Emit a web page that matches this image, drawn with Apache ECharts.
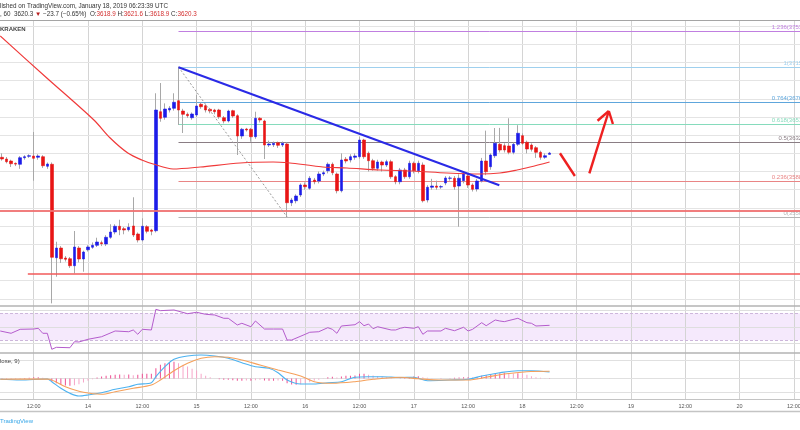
<!DOCTYPE html>
<html><head><meta charset="utf-8">
<script src="https://cdn.jsdelivr.net/npm/echarts@6/dist/echarts.min.js"></script>
<style>html,body{margin:0;padding:0;background:#fff}#c{width:800px;height:430px}</style>
</head><body><div id="c"></div>
<script>
// hours since 2019-01-14 00:00 (hourly candles, BTCUSD KRAKEN 60)
const hours = [-19,-18,-17,-16,-15,-14,-13,-12,-11,-10,-9,-8,-7,-6,-5,-4,-3,-2,-1,0,1,2,3,4,5,6,7,8,9,10,11,12,13,14,15,16,17,18,19,20,21,22,23,24,25,26,27,28,29,30,31,32,33,34,35,36,37,38,39,40,41,42,43,44,45,46,47,48,49,50,51,52,53,54,55,56,57,58,59,60,61,62,63,64,65,66,67,68,69,70,71,72,73,74,75,76,77,78,79,80,81,82,83,84,85,86,87,88,89,90,91,92,93,94,95,96,97,98,99,100,101,102];
const opens = [3615.7,3613.8,3611.6,3609.0,3608.0,3615.2,3616.8,3617.1,3615.7,3616.3,3605.8,3608.0,3505.2,3515.9,3504.9,3504.1,3496.4,3515.9,3503.8,3514.0,3516.7,3518.9,3521.7,3520.3,3527.7,3533.5,3539.8,3537.1,3536.0,3540.1,3531.3,3524.7,3539.3,3535.7,3534.9,3665.8,3659.7,3667.7,3669.6,3677.9,3666.6,3663.0,3659.2,3662.2,3674.0,3672.4,3668.5,3667.7,3667.7,3659.2,3655.6,3666.9,3661.4,3639.1,3646.8,3646.5,3638.3,3658.6,3655.6,3629.2,3629.5,3631.7,3629.2,3630.3,3565.7,3567.9,3574.2,3585.2,3581.6,3590.7,3589.6,3597.3,3600.9,3608.0,3597.3,3578.9,3613.5,3612.7,3615.7,3616.3,3634.7,3620.1,3611.9,3603.6,3610.5,3607.2,3610.8,3594.3,3588.8,3601.7,3594.3,3609.1,3600.9,3607.2,3568.7,3582.7,3584.1,3583.0,3587.4,3592.6,3592.6,3584.1,3589.9,3595.1,3585.2,3580.8,3589.6,3611.6,3605.3,3617.4,3630.0,3628.4,3628.1,3621.2,3630.0,3639.4,3632.2,3629.2,3626.2,3621.2,3615.7,3618.9];
const highs = [3620,3616,3613,3610,3617,3618,3619,3643.5,3619,3618,3610,3610,3522.8,3518,3507,3506,3534.6,3518,3513,3519,3522,3527.2,3524,3530,3542,3542,3547,3539,3543.1,3571.7,3533,3548.6,3541,3537,3686.1,3697.4,3675,3672,3686.1,3715.3,3669,3665,3665,3684.2,3676,3674,3670,3669,3669,3661,3668,3668,3663,3648,3648,3648,3665.8,3660,3657,3634,3633,3633,3633,3632,3571,3575,3587,3588,3595,3593,3600,3601,3610,3610,3599,3620,3616,3619,3620,3638.3,3636,3622,3614,3613,3612,3613,3613,3596,3604,3604,3612,3611,3612,3610,3585,3592,3590,3585,3595,3595,3595,3597,3600,3598,3587,3592,3615,3645,3620,3647.9,3648,3631,3658.6,3632,3651,3642,3634,3631,3628,3623,3620,3621.6];
const lows = [3612,3609,3605,3606,3603,3613,3615,3589.9,3613,3604,3603,3455,3484.3,3499.4,3501,3494,3488.1,3500,3489.8,3512,3515,3517,3518,3518,3526,3531,3530,3531,3534,3528,3522,3523,3532,3529.9,3533,3654.8,3657,3665,3667,3651.2,3642.4,3659,3657,3660,3669,3665,3664,3663,3658,3653,3654,3659,3618.2,3636,3644,3632.8,3636,3654,3613.8,3627,3627,3626,3627,3550,3562,3565,3572,3580,3580,3586,3587,3595,3598,3596,3576,3577,3609,3610,3613,3614,3614,3600,3601,3601,3600,3605,3592,3586,3586,3592,3592,3598,3598,3566,3566,3580,3580,3581,3585,3590,3580,3539.3,3587,3582,3578,3578,3588,3596,3602,3615,3621,3621,3619,3619,3628,3629,3620,3622,3615,3613,3614,3618.9];
const closes = [3613.8,3610.8,3608.6,3608.2,3615.2,3616.3,3617.4,3614.6,3617.1,3606.4,3608.3,3505.7,3515.9,3504.1,3503.5,3496.4,3517.0,3503.8,3511.5,3517.0,3518.9,3522.5,3520.6,3527.7,3533.5,3539.8,3536.0,3535.7,3538.7,3530.2,3524.7,3539.8,3534.3,3534.3,3667.7,3658.6,3668.8,3669.6,3676.2,3667.7,3663.0,3661.4,3663.3,3672.1,3671.3,3667.7,3666.6,3665.8,3660.3,3655.6,3666.6,3661.1,3639.1,3646.5,3645.7,3638.3,3658.6,3656.7,3629.2,3630.3,3631.1,3628.9,3631.1,3565.7,3568.7,3573.1,3585.2,3583.3,3592.6,3588.8,3597.3,3598.7,3608.0,3598.7,3578.9,3612.7,3611.6,3616.3,3617.1,3634.7,3616.3,3611.9,3603.6,3610.5,3607.2,3610.8,3594.3,3588.8,3601.7,3594.3,3609.1,3600.9,3609.1,3567.9,3582.7,3584.1,3582.7,3583.4,3592.9,3592.9,3583.3,3592.6,3597.3,3585.2,3580.5,3589.6,3611.6,3599.8,3618.2,3631.1,3623.7,3623.7,3621.2,3630.0,3642.1,3631.1,3624.8,3624.5,3621.2,3615.7,3617.4,3620.3];

// moving average [hour, price]
const maPoints = [[-19.4,3749.1],[-9.1,3702.9],[1.3,3656.7],[4.9,3636.9],[8.8,3620.4],[11.9,3612.7],[14.4,3608.3],[18.8,3602.8],[24.8,3605.0],[33.6,3609.4],[40.9,3610.5],[44.6,3609.4],[48.4,3607.2],[51.9,3605.0],[57.2,3603.9],[64.5,3601.7],[71.8,3600.6],[79.3,3598.4],[86.6,3597.3],[91.0,3598.4],[94.8,3601.7],[97.7,3605.0],[102,3610.5]];

// RSI [hour, value]
const rsiPoints = [[-19.4,43.8],[-17,40.4],[-15,46.3],[-12,46.7],[-11,47.8],[-10,40.4],[-9,40.4],[-8,16.7],[-7,19.6],[-4,19.0],[-3,27.9],[-2,27.5],[0,31.5],[3,35.3],[6,43.8],[9,42.7],[10,45.3],[11,38.9],[12,46.3],[14,45.3],[15,75.9],[16,73.9],[19,74.9],[22,69.4],[24,71.5],[26,68.5],[28,67.5],[30,62.6],[31,62.6],[33,52.7],[34,55.2],[36,50.1],[37,58.6],[39,46.7],[41,46.7],[43,46.7],[44,30.4],[45,30.4],[48,38.9],[49,41.9],[51,42.7],[53,48.7],[54,46.3],[55,40.4],[56,51.2],[59,53.1],[60,57.6],[61,51.6],[62,54.1],[63,47.2],[64,50.1],[67,45.3],[68,45.3],[69,47.8],[70,49.3],[72,47.8],[73,50.1],[74,38.9],[75,43.8],[78,43.8],[79,47.8],[81,44.2],[83,49.3],[84,43.8],[85,46.3],[87,56.1],[88,51.6],[90,60.1],[91,58.6],[92,57.6],[95,62.6],[97,56.1],[98,55.2],[99,51.2],[102,52.2]];

// MACD (12, 26, close, 9)
const macdPoints = [[-19.4,-0.8],[-15,-1.5],[-9,-0.5],[-8,-3.2],[-6,-9.8],[-4,-14.8],[-2,-17.5],[0,-16.5],[3,-14.2],[6,-10.8],[9,-8.2],[11,-5.8],[14,-4.2],[15,1.8],[17,11.8],[19,19.2],[22,22.5],[25,23.5],[28,22.5],[31,20.2],[34,15.8],[37,11.8],[40,10.2],[42,5.8],[44,-1.5],[47,-5.5],[50,-5.5],[53,-4.2],[56,-3.2],[59,1.2],[62,1.8],[65,1.8],[69,1.0],[72,1.2],[75,-2.2],[80,-1.5],[84,-0.8],[87,2.5],[91,5.8],[95,7.8],[98,7.8],[102,6.5]];
const signalPoints = [[-19.4,-0.8],[-9,-0.5],[-5,-8.2],[-1,-13.8],[3,-15.8],[6,-13.2],[10,-9.8],[14,-6.5],[16,-1.5],[19,7.8],[22,15.2],[25,20.2],[28,21.8],[31,21.2],[34,18.5],[38,13.5],[42,8.5],[47,2.5],[50,-3.2],[54,-4.8],[59,-3.2],[63,-0.8],[69,1.2],[73,-0.2],[78,-1.5],[84,-1.5],[88,1.2],[92,4.5],[97,6.8],[102,7.2]];
const histValues = [0.2,0.2,0.3,0.3,0.3,0.5,0.7,1.3,1.3,0.7,0.3,-3,-4.7,-6.3,-7,-7.3,-6.7,-5.7,-4,-2.3,-0.7,1,2,2.7,3.3,3.7,4,3.7,4,3.3,3.7,4.7,4.7,4.7,10.3,13.7,15.3,16.3,16.7,15.3,13.7,12,9.7,8,4.7,2.7,1.3,0,-0.7,-1.3,-1.3,-1.7,-2.3,-2.3,-2,-2.3,-1.7,-1.3,-2,-2.3,-2.3,-2,-2.3,-4.7,-6,-6.3,-5.7,-4.7,-3.7,-2.3,-1.3,-0.3,1.3,1.7,1,2,2.7,2.7,3,4.7,4.7,3.7,3,2.3,2,1.3,0.7,0,0.3,1,1.5,2,2.3,1.3,0.7,0.3,0,-0.3,0,0.3,0.7,1,1.3,1.3,1,1.3,2.7,3.3,4,5,5.3,5.7,5.3,5,5.3,5,3.7,2.3,1.3,0.7,0.3,-0.3];

// price grid levels and annotations
const priceGrid = [3460,3480,3500,3520,3540,3560,3580,3600,3620,3640,3660,3680,3700,3720,3740,3760];
const timeTicks = [-12,0,12,24,36,48,60,72,84,96,108,120,132,144,156];
const fibLevels = [1.236, 1, 0.764, 0.618, 0.5, 0.236, 0];
const fibLow = 3550, fibHigh = 3715;      // swing low / swing high
const fibStartHour = 20;
const fibColors = ['#c07fe0','#9fd0ee','#5ea6dc','#86dbbc','#8a7d84','#e98585','#b5b5b5'];
const supportA = 3556.6, supportB = 3487.3;
const trendLine = [[20,3714.7],[90.9,3584.9]];
const fibDiagonal = [[20,3715],[44,3550]];
const arrowDown = [[104.3,3620.1],[107.6,3595.1]];
const arrowUp = [[110.8,3598.1],[115.1,3666.6]];
const arrowHeadL = [[112.6,3655.9],[115.1,3666.6]];
const arrowHeadR = [[116.0,3652.3],[115.1,3666.6]];
const rsiGrid = [75, 50, 25];
const macdGrid = [18.5, 0, -13.5];

const FONT = '"Liberation Sans", Arial, sans-serif';
const tMin = -19.45, tMax = 157.35;
const yRanges = [[3452.1, 3765.6], [11.2, 80.8], [-20.5, 25.5]];

const candleData = hours.map((t, i) => [t, opens[i], closes[i], lows[i], highs[i]]);
const bodyData = hours.map((t, i) => [t, opens[i], closes[i], Math.min(opens[i], closes[i]), Math.max(opens[i], closes[i])]);
const histData = hours.map((t, i) => [t, histValues[i]]);

function seg(a, b, style) { return [{coord: a, lineStyle: style}, {coord: b}]; }
const red = {color: '#ee2020', width: 2.4, type: 'solid'};

// vertical time grid lines for each panel, built from timeTicks
function timeGridSeries(i) {
  const r = yRanges[i];
  return {name: 'timeGrid' + i, type: 'line', xAxisIndex: i, yAxisIndex: i, data: [], z: 1,
    markLine: {silent: true, z: 1, symbol: ['none', 'none'], label: {show: false},
      data: timeTicks.map(v => [{coord: [v, r[0]], lineStyle: {color: '#d4d4d4', width: 1, type: 'solid'}}, {coord: [v, r[1]]}])}};
}

const xAxes = [0, 1, 2].map(i => ({
  type: 'value', gridIndex: i, min: tMin, max: tMax,
  axisLine: {show: false},
  axisTick: {show: false, customValues: timeTicks},
  axisLabel: {show: i === 2, customValues: timeTicks, fontSize: 5.5, color: '#555', fontFamily: FONT, margin: 4,
    showMinLabel: true, showMaxLabel: true, hideOverlap: false,
    formatter: v => (((v % 24) + 24) % 24 === 0 ? String(14 + v / 24) : '12:00')},
  splitLine: {show: true, lineStyle: {color: '#d4d4d4', width: 1}}
}));

const gridBase = {left: 0, right: 0, containLabel: false, outerBoundsMode: 'none'};

const option = {
  animation: false,
  backgroundColor: '#ffffff',
  grid: [
    Object.assign({top: 21, height: 285}, gridBase),
    Object.assign({top: 306, height: 47}, gridBase),
    Object.assign({top: 353, height: 46}, gridBase)
  ],
  xAxis: xAxes,
  yAxis: yRanges.map((r, i) => ({type: 'value', gridIndex: i, min: r[0], max: r[1], show: false, splitLine: {show: false}})),
  series: [
    timeGridSeries(0), timeGridSeries(1), timeGridSeries(2),
    { name: 'priceGrid', type: 'line', xAxisIndex: 0, yAxisIndex: 0, data: [], z: 1,
      markLine: {silent: true, z: 1, symbol: ['none', 'none'], label: {show: false},
        lineStyle: {color: '#e4e4e4', width: 1, type: 'solid'},
        data: priceGrid.map(v => ({yAxis: v}))}},
    { name: 'fib', type: 'line', xAxisIndex: 0, yAxisIndex: 0, data: [], z: 1,
      markLine: {silent: true, z: 1, symbol: ['none', 'none'],
        data: fibLevels.map((lv, i) => {
          const price = fibLow + lv * (fibHigh - fibLow);
          return [{coord: [fibStartHour, price], lineStyle: {color: fibColors[i], width: 1, type: 'solid'},
            label: {show: true, position: 'insideEndTop', distance: [-12.5, 1], color: fibColors[i], fontSize: 6, fontFamily: FONT,
              formatter: lv + '(' + price.toFixed(2) + ')'}},
            {coord: [tMax, price]}];
        })}},
    { name: 'wicks', type: 'candlestick', xAxisIndex: 0, yAxisIndex: 0, z: 2, barWidth: 0.5,
      encode: {x: 0, y: [1, 2, 3, 4]}, data: candleData,
      itemStyle: {color: '#a8a8a8', color0: '#a8a8a8', borderColor: '#a8a8a8', borderColor0: '#a8a8a8', borderWidth: 1}},
    { name: 'bodies', type: 'candlestick', xAxisIndex: 0, yAxisIndex: 0, z: 3, barWidth: 3,
      encode: {x: 0, y: [1, 2, 3, 4]}, data: bodyData,
      itemStyle: {color: '#1c1ce8', color0: '#e81515', borderColor: '#1c1ce8', borderColor0: '#e81515', borderWidth: 0.6}},
    { name: 'MA', type: 'line', xAxisIndex: 0, yAxisIndex: 0, z: 4, data: maPoints, showSymbol: false, smooth: 0.3,
      lineStyle: {color: '#f03a3a', width: 1.2}},
    { name: 'drawings', type: 'line', xAxisIndex: 0, yAxisIndex: 0, data: [], z: 6,
      markLine: {silent: true, z: 6, symbol: ['none', 'none'], label: {show: false},
        data: [
          {yAxis: supportA, lineStyle: {color: '#f07070', width: 2.2, type: 'solid', opacity: 0.9}},
          seg([-13.3, supportB], [tMax, supportB], {color: '#f25a5a', width: 1.6, type: 'solid'}),
          seg(fibDiagonal[0], fibDiagonal[1], {color: '#9a9a9a', width: 1, type: [2, 2]}),
          seg(trendLine[0], trendLine[1], {color: '#2a2ae6', width: 2, type: 'solid'}),
          seg(arrowDown[0], arrowDown[1], red),
          seg(arrowUp[0], arrowUp[1], red),
          seg(arrowHeadL[0], arrowHeadL[1], red),
          seg(arrowHeadR[0], arrowHeadR[1], red)
        ]}},
    { name: 'RSI', type: 'line', xAxisIndex: 1, yAxisIndex: 1, data: rsiPoints, showSymbol: false, z: 4,
      lineStyle: {color: '#b45ccc', width: 1},
      markArea: {silent: true, z: 1, itemStyle: {color: 'rgba(190,120,235,0.16)'}, data: [[{yAxis: 30}, {yAxis: 70}]]},
      markLine: {silent: true, z: 2, symbol: ['none', 'none'], label: {show: false},
        data: [
          {yAxis: 70, lineStyle: {color: '#cdb6db', width: 1, type: [3, 2]}},
          {yAxis: 30, lineStyle: {color: '#cdb6db', width: 1, type: [3, 2]}}
        ].concat(rsiGrid.map(v => ({yAxis: v, lineStyle: {color: '#dedede', width: 1, type: 'solid'}})))}},
    { name: 'hist', type: 'bar', xAxisIndex: 2, yAxisIndex: 2, data: histData, barWidth: 1, z: 3,
      itemStyle: {color: p => {
        const i = p.dataIndex; const v = histValues[i]; const prev = i > 0 ? histValues[i - 1] : v;
        return Math.abs(v) >= Math.abs(prev) ? '#ee4f92' : '#f6a6c8';
      }},
      markLine: {silent: true, z: 1, symbol: ['none', 'none'], label: {show: false},
        lineStyle: {color: '#e0e0e0', width: 1, type: 'solid'},
        data: macdGrid.map(v => ({yAxis: v}))}},
    { name: 'MACD', type: 'line', xAxisIndex: 2, yAxisIndex: 2, data: macdPoints, showSymbol: false, smooth: 0.3, z: 4,
      lineStyle: {color: '#4cb2f0', width: 1.1}},
    { name: 'Signal', type: 'line', xAxisIndex: 2, yAxisIndex: 2, data: signalPoints, showSymbol: false, smooth: 0.3, z: 4,
      lineStyle: {color: '#f5a05a', width: 1.1}}
  ],
  graphic: [
    {type: 'line', z: 50, shape: {x1: 0, y1: 20.5, x2: 800, y2: 20.5}, style: {stroke: '#a5a5a5', lineWidth: 1}},
    {type: 'line', z: 50, shape: {x1: 0, y1: 306, x2: 800, y2: 306}, style: {stroke: '#b3b3b3', lineWidth: 1.5}},
    {type: 'line', z: 50, shape: {x1: 0, y1: 353, x2: 800, y2: 353}, style: {stroke: '#b3b3b3', lineWidth: 1.5}},
    {type: 'line', z: 50, shape: {x1: 0, y1: 399.5, x2: 800, y2: 399.5}, style: {stroke: '#c4c4c4', lineWidth: 1}},
    {type: 'line', z: 50, shape: {x1: 0, y1: 411.5, x2: 800, y2: 411.5}, style: {stroke: '#c4c4c4', lineWidth: 1.5}},
    {type: 'text', z: 50, x: 0, y: 6, style: {text: 'lished on TradingView.com, January 18, 2019 06:23:39 UTC', font: '6.3px ' + FONT, fill: '#333', verticalAlign: 'middle'}},
    {type: 'text', z: 50, x: 0, y: 14.7, style: {
      text: '{d|, 60  3620.3 }{t|▼}{d| −23.7 (−0.65%)  O:}{r|3618.9}{d| H:}{r|3621.6}{d| L:}{r|3618.9}{d| C:}{r|3620.3}',
      font: '6.3px ' + FONT, verticalAlign: 'middle',
      rich: {d: {fill: '#333', font: '6.3px ' + FONT}, t: {fill: '#b71c1c', font: '6.3px ' + FONT}, r: {fill: '#d32f2f', font: '6.3px ' + FONT}}}},
    {type: 'text', z: 50, x: 0, y: 29.3, style: {text: 'KRAKEN', font: 'bold 6px ' + FONT, fill: '#444', verticalAlign: 'middle'}},
    {type: 'text', z: 50, x: 0, y: 361.7, style: {text: 'lose, 9)', font: '6px ' + FONT, fill: '#444', verticalAlign: 'middle'}},
    {type: 'text', z: 50, x: 0, y: 421.7, style: {text: 'TradingView', font: '6px ' + FONT, fill: '#35a6e8', verticalAlign: 'middle'}}
  ]
};
const chart = echarts.init(document.getElementById('c'), null, {renderer: 'canvas', width: 800, height: 430});
chart.setOption(option);
</script></body></html>
